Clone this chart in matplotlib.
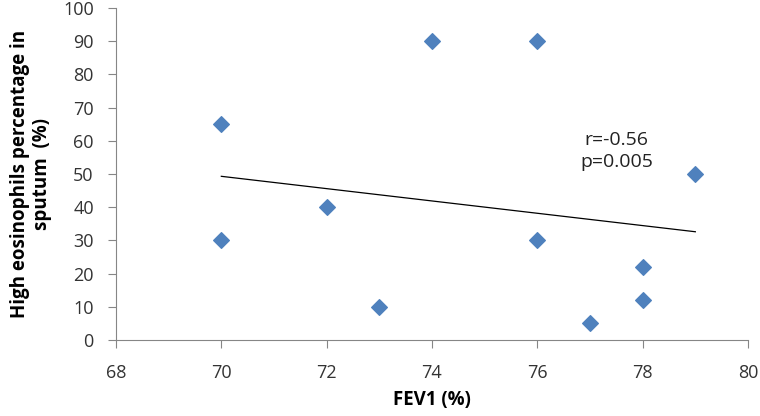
import numpy as np
import matplotlib
matplotlib.use("Agg")
import matplotlib.pyplot as plt

plt.rcParams['font.family'] = ['Open Sans', 'DejaVu Sans']

fev1 = [70, 70, 72, 73, 74, 76, 76, 77, 78, 78, 79]
eos = [65, 30, 40, 10, 90, 90, 30, 5, 22, 12, 50]
x_ticks = [68, 70, 72, 74, 76, 78, 80]
y_ticks = [0, 10, 20, 30, 40, 50, 60, 70, 80, 90, 100]
annot = "r=-0.56\np=0.005"

fig = plt.figure(figsize=(7.6, 4.16), dpi=100)
ax = fig.add_axes([116/760, 1 - 340/416, (748 - 116)/760, (340 - 8)/416])

ax.plot(fev1, eos, linestyle='none', marker='D', markersize=8,
        color='#4F81BD', markeredgecolor='#4F81BD', markeredgewidth=0.8,
        zorder=3)

coef = np.polyfit(fev1, eos, 1)
xl = np.array([min(fev1), max(fev1)])
ax.plot(xl, np.polyval(coef, xl), color='black', linewidth=0.9, zorder=2)

ax.text(77.5, 57, annot, ha='center', va='center', fontsize=14,
        color='#222222', linespacing=1.3)

ax.set_xlim(68, 80)
ax.set_ylim(0, 100)
ax.set_xticks(x_ticks)
ax.set_yticks(y_ticks)
ax.tick_params(axis='both', direction='out', length=6, width=0.8,
               color='#868686', labelsize=13, labelcolor='#333333')
ax.tick_params(axis='x', pad=11)
ax.tick_params(axis='y', pad=10)

for s in ['top', 'right']:
    ax.spines[s].set_visible(False)
for s in ['left', 'bottom']:
    ax.spines[s].set_color('#868686')
    ax.spines[s].set_linewidth(0.8)

ax.set_xlabel('FEV1 (%)', fontsize=13.5, fontweight='bold', labelpad=6)
ax.set_ylabel('High eosinophils percentage in\nsputum  (%)', fontsize=13.5,
              fontweight='bold', labelpad=8, linespacing=1.1)

fig.savefig('out.png', dpi=100)
